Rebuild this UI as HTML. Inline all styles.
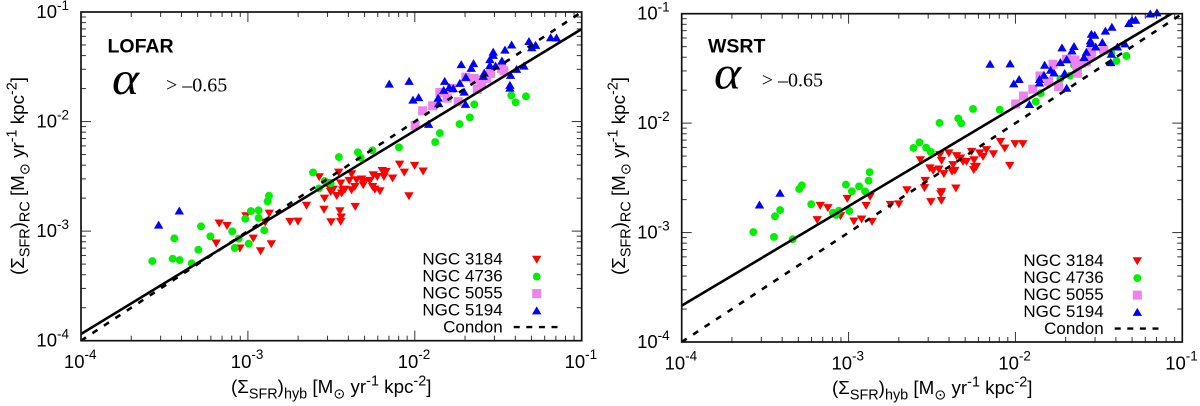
<!DOCTYPE html>
<html lang="en">
<head>
<meta charset="utf-8">
<title>Radio continuum SFR vs hybrid SFR</title>
<style>
  html, body { margin: 0; padding: 0; background: #fff; }
  svg { display: block; }
  text { font-family: "Liberation Sans", "DejaVu Sans", sans-serif; fill: #000; }
  .serif { font-family: "Liberation Serif", "DejaVu Serif", serif; }
</style>
</head>
<body>
<svg id="chart" xmlns="http://www.w3.org/2000/svg" width="1200" height="406" viewBox="0 0 1200 406">
  <rect x="0" y="0" width="1200" height="406" fill="#fff"/>
  <g id="panel-lofar"></g>
  <g id="panel-wsrt"></g>

  <text x="107.5" y="52.3" font-size="19.5" font-weight="bold">LOFAR</text>
  <text class="serif" x="112" y="94" font-size="47" font-style="italic" textLength="27" lengthAdjust="spacingAndGlyphs">α</text>
  <text class="serif" x="166" y="91.7" font-size="20">&gt; –0.65</text>

  <text x="708" y="52.3" font-size="19.5" font-weight="bold">WSRT</text>
  <text class="serif" x="714" y="88.5" font-size="47" font-style="italic" textLength="27" lengthAdjust="spacingAndGlyphs">α</text>
  <text class="serif" x="761.7" y="86.7" font-size="20">&gt; –0.65</text>

  <text x="231" y="393" font-size="18.8">(Σ<tspan dy="5.5" font-size="14.4">SFR</tspan><tspan dy="-5.5">)</tspan><tspan dy="5.5" font-size="14.4">hyb</tspan><tspan dy="-5.5"> [M</tspan><tspan dy="5.5" font-size="14.4">⊙</tspan><tspan dy="-5.5"> yr</tspan><tspan dy="-7.5" font-size="14.4">-1</tspan><tspan dy="7.5"> kpc</tspan><tspan dy="-7.5" font-size="14.4">-2</tspan><tspan dy="7.5">]</tspan></text>
  <text x="832" y="394" font-size="18.8">(Σ<tspan dy="5.5" font-size="14.4">SFR</tspan><tspan dy="-5.5">)</tspan><tspan dy="5.5" font-size="14.4">hyb</tspan><tspan dy="-5.5"> [M</tspan><tspan dy="5.5" font-size="14.4">⊙</tspan><tspan dy="-5.5"> yr</tspan><tspan dy="-7.5" font-size="14.4">-1</tspan><tspan dy="7.5"> kpc</tspan><tspan dy="-7.5" font-size="14.4">-2</tspan><tspan dy="7.5">]</tspan></text>
  <text transform="translate(24,275) rotate(-90)" font-size="18.8">(Σ<tspan dy="5.5" font-size="14.4">SFR</tspan><tspan dy="-5.5">)</tspan><tspan dy="5.5" font-size="14.4">RC</tspan><tspan dy="-5.5"> [M</tspan><tspan dy="5.5" font-size="14.4">⊙</tspan><tspan dy="-5.5"> yr</tspan><tspan dy="-7.5" font-size="14.4">-1</tspan><tspan dy="7.5"> kpc</tspan><tspan dy="-7.5" font-size="14.4">-2</tspan><tspan dy="7.5">]</tspan></text>
  <text transform="translate(625,275) rotate(-90)" font-size="18.8">(Σ<tspan dy="5.5" font-size="14.4">SFR</tspan><tspan dy="-5.5">)</tspan><tspan dy="5.5" font-size="14.4">RC</tspan><tspan dy="-5.5"> [M</tspan><tspan dy="5.5" font-size="14.4">⊙</tspan><tspan dy="-5.5"> yr</tspan><tspan dy="-7.5" font-size="14.4">-1</tspan><tspan dy="7.5"> kpc</tspan><tspan dy="-7.5" font-size="14.4">-2</tspan><tspan dy="7.5">]</tspan></text>
</svg>

<script>
// All values are log10 of surface density [Msun / yr / kpc^2].
const tickExponents = [-4, -3, -2, -1];
const minorMultipliers = [2, 3, 4, 5, 6, 7, 8, 9];
const legendNames = ["NGC 3184", "NGC 4736", "NGC 5055", "NGC 5194"];

// Fit lines: log y = fitAtMinus4 + slope * (log x + 4)
const lofarFit = [-3.939, 0.928];
const wsrtFit = [-3.668, 0.909];
// Condon relation: log y = log x
const condonFit = [-4, 1];

const lofar3184X = [-3.172,-3.125,-3.19,-3.048,-3.012,-2.968,-2.924,-2.86,-2.872,-2.896,-2.748,-2.70,-2.649,-2.544,-2.541,-2.502,-2.573,-2.456,-2.379,-2.449,-2.441,-2.444,-2.357,-2.468,-2.504,-2.513,-2.444,-2.432,-2.438,-2.393,-2.359,-2.379,-2.349,-2.319,-2.299,-2.269,-2.309,-2.249,-2.225,-2.253,-2.239,-2.209,-2.195,-2.173,-2.185,-2.133,-2.091,-2.063,-2.001,-1.95,-2.035,-2.419,-2.489,-2.52];
const lofar3184Y = [-2.929,-2.951,-3.111,-3.157,-2.862,-3.066,-3.182,-3.118,-2.838,-2.92,-2.914,-2.911,-2.766,-2.803,-2.701,-2.917,-2.506,-2.464,-2.479,-2.817,-2.874,-2.914,-2.777,-2.677,-2.641,-2.60,-2.564,-2.625,-2.655,-2.54,-2.595,-2.625,-2.534,-2.527,-2.549,-2.54,-2.579,-2.488,-2.504,-2.595,-2.619,-2.634,-2.449,-2.458,-2.504,-2.518,-2.391,-2.464,-2.403,-2.454,-2.68,-2.619,-2.619,-2.561];

const lofar4736X = [-3.573,-3.451,-3.409,-3.441,-3.337,-3.297,-3.281,-3.225,-3.094,-3.055,-3.079,-2.995,-3.016,-2.982,-2.936,-2.936,-2.902,-2.882,-2.874,-2.61,-2.574,-2.54,-2.504,-2.455,-2.341,-2.325,-2.254,-2.095,-1.878,-1.85,-1.732,-1.67,-1.644,-1.422,-1.396,-1.334];
const lofar4736Y = [-3.273,-3.252,-3.264,-3.066,-3.294,-3.17,-2.956,-3.047,-3.002,-3.069,-3.154,-3.115,-2.887,-2.817,-2.81,-2.88,-2.993,-2.728,-2.677,-2.464,-2.61,-2.543,-2.564,-2.324,-2.281,-2.33,-2.262,-2.235,-2.187,-2.105,-2.023,-1.962,-1.843,-1.761,-1.825,-1.77];

const lofar5055X = [-1.998,-1.953,-1.893,-1.85,-1.806,-1.78,-1.74,-1.694,-1.646,-1.626,-1.60,-1.57,-1.546,-1.48,-1.466,-1.62];
const lofar5055Y = [-2.035,-1.902,-1.856,-1.734,-1.786,-1.697,-1.819,-1.594,-1.606,-1.706,-1.652,-1.606,-1.56,-1.515,-1.537,-1.621];

const lofar5194X = [-3.535,-3.411,-2.153,-2.034,-2.011,-1.977,-1.917,-1.86,-1.857,-1.821,-1.827,-1.794,-1.77,-1.73,-1.704,-1.696,-1.694,-1.722,-1.662,-1.648,-1.584,-1.59,-1.55,-1.53,-1.53,-1.516,-1.55,-1.478,-1.46,-1.42,-1.426,-1.43,-1.43,-1.39,-1.346,-1.316,-1.299,-1.276,-1.186,-1.151];
const lofar5194Y = [-2.942,-2.814,-1.655,-1.631,-1.801,-1.779,-2.023,-1.783,-1.834,-1.631,-1.713,-1.688,-1.697,-1.649,-1.728,-1.84,-1.594,-1.478,-1.512,-1.469,-1.555,-1.585,-1.432,-1.363,-1.393,-1.491,-1.485,-1.445,-1.345,-1.299,-1.576,-1.667,-1.692,-1.521,-1.491,-1.266,-1.323,-1.302,-1.232,-1.235];

const wsrt3184X = [-3.17,-3.124,-3.188,-3.048,-3.008,-2.968,-2.922,-2.859,-2.871,-2.895,-2.749,-2.699,-2.65,-2.545,-2.541,-2.507,-2.513,-2.57,-2.444,-2.443,-2.447,-2.357,-2.493,-2.459,-2.429,-2.443,-2.453,-2.399,-2.38,-2.363,-2.374,-2.353,-2.329,-2.314,-2.293,-2.263,-2.248,-2.244,-2.25,-2.234,-2.214,-2.194,-2.174,-2.132,-2.09,-2.064,-2.002,-1.956,-2.034];
const wsrt3184Y = [-2.754,-2.775,-2.885,-2.848,-2.69,-2.897,-2.879,-2.90,-2.672,-2.754,-2.745,-2.74,-2.611,-2.592,-2.526,-2.72,-2.412,-2.337,-2.709,-2.629,-2.647,-2.595,-2.434,-2.422,-2.464,-2.343,-2.291,-2.275,-2.443,-2.434,-2.382,-2.30,-2.321,-2.352,-2.352,-2.261,-2.337,-2.398,-2.428,-2.398,-2.275,-2.306,-2.245,-2.282,-2.169,-2.23,-2.19,-2.19,-2.389];

const wsrt4736X = [-3.571,-3.447,-3.441,-3.41,-3.335,-3.296,-3.28,-3.224,-3.094,-3.058,-3.076,-2.996,-3.016,-2.98,-2.937,-2.901,-2.88,-2.874,-2.611,-2.575,-2.535,-2.507,-2.455,-2.343,-2.325,-2.254,-2.094,-1.878,-1.849,-1.731,-1.673,-1.649,-1.425,-1.395,-1.335];
const wsrt4736Y = [-2.995,-3.04,-2.851,-2.794,-3.061,-2.602,-2.568,-2.741,-2.818,-2.80,-2.839,-2.803,-2.562,-2.623,-2.577,-2.623,-2.526,-2.448,-2.227,-2.175,-2.224,-2.263,-1.998,-1.957,-2.001,-1.87,-1.877,-1.804,-1.727,-1.596,-1.566,-1.468,-1.361,-1.432,-1.386];

const wsrt5055X = [-1.998,-1.952,-1.896,-1.853,-1.801,-1.775,-1.741,-1.695,-1.643,-1.629,-1.605,-1.547,-1.543,-1.471,-1.635,-1.575];
const wsrt5055Y = [-1.825,-1.752,-1.69,-1.569,-1.621,-1.462,-1.667,-1.416,-1.423,-1.544,-1.453,-1.392,-1.347,-1.331,-1.468,-1.441];

const wsrt5194X = [-3.534,-3.411,-2.152,-2.032,-2.01,-1.978,-1.916,-1.856,-1.856,-1.829,-1.825,-1.789,-1.769,-1.731,-1.705,-1.693,-1.693,-1.721,-1.661,-1.649,-1.589,-1.575,-1.549,-1.545,-1.525,-1.519,-1.479,-1.461,-1.422,-1.425,-1.429,-1.389,-1.344,-1.32,-1.302,-1.28,-1.192,-1.152,-1.551];
const wsrt5194Y = [-2.745,-2.638,-1.459,-1.456,-1.639,-1.599,-1.827,-1.599,-1.63,-1.56,-1.468,-1.514,-1.539,-1.444,-1.544,-1.678,-1.416,-1.31,-1.338,-1.297,-1.398,-1.349,-1.27,-1.185,-1.194,-1.301,-1.261,-1.157,-1.121,-1.368,-1.444,-1.301,-1.273,-1.087,-1.057,-1.057,-1.0,-0.99,-1.246];

const SVG_NS = "http://www.w3.org/2000/svg";

function make(tag, attrs, parent) {
  const el = document.createElementNS(SVG_NS, tag);
  for (const k in attrs) el.setAttribute(k, attrs[k]);
  parent.appendChild(el);
  return el;
}

function trianglePoints(cx, cy, dir) {
  const w = 4.7, h = 3.8;
  return (cx - w) + "," + (cy - dir * h) + " " + (cx + w) + "," + (cy - dir * h) + " " + cx + "," + (cy + dir * (h + 0.4));
}

function drawMark(kind, cx, cy, parent, name) {
  let el;
  if (kind === "down") {
    el = make("polygon", { points: trianglePoints(cx, cy, 1), fill: "#ff0000" }, parent);
  } else if (kind === "circle") {
    el = make("circle", { cx: cx, cy: cy, r: 3.95, fill: "#00f000" }, parent);
  } else if (kind === "square") {
    el = make("rect", { x: cx - 4.5, y: cy - 4.5, width: 9, height: 9, fill: "#ee82ee" }, parent);
  } else {
    el = make("polygon", { points: trianglePoints(cx, cy, -1), fill: "#0000ff" }, parent);
  }
  
  
  return el;
}

const markKinds = ["down", "circle", "square", "up"];

function drawPanel(groupId, prefix, frame, series, fit, legend) {
  const root = document.getElementById(groupId);
  const xScale = v => frame.left + (v + 4) / 3 * (frame.right - frame.left);
  const yScale = v => frame.bottom - (v + 4) / 3 * (frame.bottom - frame.top);
  const domainMin = tickExponents[0];
  const domainMax = tickExponents[tickExponents.length - 1];

  // ticks
  const tickGroup = make("g", { stroke: "#333", "stroke-width": 1 }, root);
  
  
  for (let i = 0; i < tickExponents.length; i++) {
    const e = tickExponents[i];
    const px = xScale(e), py = yScale(e);
    make("line", { x1: px, x2: px, y1: frame.bottom, y2: frame.bottom - 10 }, tickGroup);
    make("line", { x1: px, x2: px, y1: frame.top, y2: frame.top + 10 }, tickGroup);
    make("line", { x1: frame.left, x2: frame.left + 10, y1: py, y2: py }, tickGroup);
    make("line", { x1: frame.right, x2: frame.right - 10, y1: py, y2: py }, tickGroup);
    if (e < domainMax) {
      for (const m of minorMultipliers) {
        const lv = e + Math.log10(m);
        const mx = xScale(lv), my = yScale(lv);
        make("line", { x1: mx, x2: mx, y1: frame.bottom, y2: frame.bottom - 5 }, tickGroup);
        make("line", { x1: mx, x2: mx, y1: frame.top, y2: frame.top + 5 }, tickGroup);
        make("line", { x1: frame.left, x2: frame.left + 5, y1: my, y2: my }, tickGroup);
        make("line", { x1: frame.right, x2: frame.right - 5, y1: my, y2: my }, tickGroup);
      }
    }

    const xLabel = make("text", { x: px + 15.5, y: frame.bottom + 27.5, "font-size": 18.5, "text-anchor": "end" }, root);
    
    
    xLabel.innerHTML = '10<tspan dy="-9" font-size="13.5">' + e + '</tspan>';

    const yLabel = make("text", { x: frame.left - 12, y: py + 6, "font-size": 18.5, "text-anchor": "end" }, root);
    
    
    yLabel.innerHTML = '10<tspan dy="-8" font-size="13.5">' + e + '</tspan>';
  }

  // series marks
  for (let s = 0; s < series.length; s++) {
    const g = make("g", {}, root);
    
    
    const xs = series[s][0], ys = series[s][1];
    for (let i = 0; i < xs.length; i++) {
      drawMark(markKinds[s], xScale(xs[i]), yScale(ys[i]), g, 'data-point');
    }
  }

  // lines
  const clipId = prefix + "-clip";
  const defs = make("defs", {}, root);
  const clip = make("clipPath", { id: clipId }, defs);
  make("rect", { x: frame.left, y: frame.top, width: frame.right - frame.left, height: frame.bottom - frame.top }, clip);
  const lineY = (f, v) => f[0] + f[1] * (v + 4);

  const condon = make("line", {
    x1: xScale(domainMin), y1: yScale(lineY(condonFit, domainMin)),
    x2: xScale(domainMax), y2: yScale(lineY(condonFit, domainMax)),
    stroke: "#000", "stroke-width": 2.6, "stroke-dasharray": "6 7.7", "clip-path": "url(#" + clipId + ")"
  }, root);
  
  

  const solid = make("line", {
    x1: xScale(domainMin), y1: yScale(lineY(fit, domainMin)),
    x2: xScale(domainMax), y2: yScale(lineY(fit, domainMax)),
    stroke: "#000", "stroke-width": 2.6, "clip-path": "url(#" + clipId + ")"
  }, root);
  
  

  // frame
  const border = make("rect", {
    x: frame.left, y: frame.top, width: frame.right - frame.left, height: frame.bottom - frame.top,
    fill: "none", stroke: "#111", "stroke-width": 1.7
  }, root);
  
  

  // legend
  const lg = make("g", {}, root);
  
  
  for (let s = 0; s < legendNames.length; s++) {
    const t = make("text", { x: legend.textX, y: legend.baseY + s * legend.step, "font-size": 17, "text-anchor": "end" }, lg);
    
    
    t.textContent = legendNames[s];
    drawMark(markKinds[s], legend.markX, legend.baseY + s * legend.step - 4.9, lg, 'legend-entry-marker');
  }
  const cy = legend.baseY + 4 * legend.step;
  const ct = make("text", { x: legend.textX, y: cy, "font-size": 17, "text-anchor": "end" }, lg);
  
  
  ct.textContent = "Condon";
  const cl = make("line", {
    x1: legend.textX + 11, x2: legend.textX + 55, y1: cy - 5.4, y2: cy - 5.4,
    stroke: "#000", "stroke-width": 2.4, "stroke-dasharray": "6 6.6"
  }, lg);
  
  
}

drawPanel("panel-lofar", "lofar",
  { left: 81, right: 581.7, top: 12, bottom: 340.7 },
  [[lofar3184X, lofar3184Y], [lofar4736X, lofar4736Y], [lofar5055X, lofar5055Y], [lofar5194X, lofar5194Y]],
  lofarFit,
  { textX: 502.7, markX: 536.7, baseY: 264.5, step: 17 });

drawPanel("panel-wsrt", "wsrt",
  { left: 681.7, right: 1182.3, top: 13.7, bottom: 342 },
  [[wsrt3184X, wsrt3184Y], [wsrt4736X, wsrt4736Y], [wsrt5055X, wsrt5055Y], [wsrt5194X, wsrt5194Y]],
  wsrtFit,
  { textX: 1103.7, markX: 1137.3, baseY: 266, step: 17 });
</script>
</body>
</html>
